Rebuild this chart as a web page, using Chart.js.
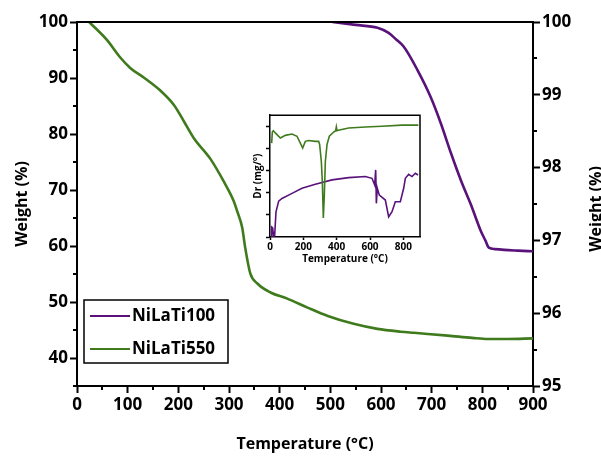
<!DOCTYPE html>
<html>
<head>
<meta charset="utf-8">
<script src="https://cdn.jsdelivr.net/npm/chart.js@4.4.0/dist/chart.umd.min.js"></script>
<style>
  html, body { margin: 0; padding: 0; background: #fff; }
  #wrap { position: relative; width: 601px; height: 457px; overflow: hidden; }
  #main { position: absolute; left: 0; top: 0; }
  #inset { position: absolute; left: 240px; top: 105px; }
</style>
</head>
<body>
<div id="wrap">
  <canvas id="main" width="601" height="457"></canvas>
  <canvas id="inset" width="190" height="165"></canvas>
</div>
<script>
// TGA curves
const ti100Temp   = [504, 550, 593, 615, 630, 645, 672, 698, 718, 738, 758, 777, 797, 806, 813, 825, 843, 870, 900];
const ti100Weight = [100, 99.96, 99.92, 99.85, 99.76, 99.66, 99.34, 98.97, 98.61, 98.2, 97.82, 97.5, 97.13, 97.0, 96.9, 96.88, 96.87, 96.86, 96.85];

const ti550Temp   = [24, 59, 85, 105, 133, 164, 192, 212, 231, 263, 291, 309, 317, 326, 332, 342, 356, 382, 415, 455, 495, 546, 593, 639, 665, 732, 780, 811, 850, 900];
const ti550Weight = [100, 96.8, 93.7, 91.8, 90.0, 87.8, 85.1, 82.1, 79.2, 75.6, 71.3, 68.1, 66.0, 63.3, 59.7, 55.1, 53.3, 51.7, 50.6, 49.0, 47.5, 46.1, 45.2, 44.7, 44.5, 44.0, 43.6, 43.4, 43.4, 43.5];

// inset DTG curves (arbitrary units)
const dtg550Temp = [10, 14, 20, 32, 62, 92, 132, 162, 182, 196, 212, 232, 272, 292, 298, 308, 314, 320, 326, 332, 342, 356, 382, 394, 398, 402, 410, 472, 572, 672, 792, 890];
const dtg550Val  = [4.24, 4.74, 4.8, 4.7, 4.47, 4.59, 4.65, 4.55, 4.24, 4.02, 4.32, 4.36, 4.32, 4.32, 4.17, 3.41, 2.5, 0.86, 1.9, 3.4, 4.17, 4.55, 4.74, 4.8, 4.97, 4.8, 4.82, 4.92, 4.97, 5.0, 5.05, 5.05];

const dtg100Temp = [8, 10, 16, 22, 28, 36, 52, 72, 132, 192, 272, 372, 472, 572, 612, 628, 634, 636, 638, 644, 656, 692, 712, 732, 752, 782, 802, 812, 832, 852, 872, 888];
const dtg100Val  = [0.0, 0.45, 0.41, 0.0, 0.08, 1.14, 1.62, 1.74, 1.97, 2.2, 2.38, 2.58, 2.68, 2.73, 2.65, 2.35, 3.03, 2.4, 1.52, 2.2, 1.89, 1.67, 0.91, 1.14, 1.59, 1.59, 2.2, 2.65, 2.83, 2.73, 2.88, 2.8];

const tempTicks      = [0, 100, 200, 300, 400, 500, 600, 700, 800, 900];
const tempMinor      = [50, 150, 250, 350, 450, 550, 650, 750, 850];
const leftTicks      = [40, 50, 60, 70, 80, 90, 100];
const leftMinor      = [35, 45, 55, 65, 75, 85, 95];
const rightTicks     = [95, 96, 97, 98, 99, 100];
const rightMinor     = [95.5, 96.5, 97.5, 98.5, 99.5];
const insetTempTicks = [0, 200, 400, 600, 800];
const insetValTicks  = [0, 1, 2, 3, 4, 5];

const FONT = "'Open Sans', 'Noto Sans', sans-serif";
const PURPLE = '#5a127b';
const GREEN = '#3f7b1d';

const pts = (xs, ys) => xs.map((x, i) => ({x: x, y: ys[i]}));
const fixed = list => s => { s.ticks = list.map(v => ({value: v})); };

// minor ticks, top frame, right title and legend box
const mainExtras = {
  id: 'mainExtras',
  afterDraw(chart) {
    const ctx = chart.ctx;
    const a = chart.chartArea;
    const sx = chart.scales.x, sl = chart.scales.y, sr = chart.scales.y2;
    ctx.save();
    ctx.strokeStyle = '#000';
    ctx.lineWidth = 2;
    ctx.beginPath();
    ctx.moveTo(a.left - 1, a.top);
    ctx.lineTo(a.right + 1, a.top);
    tempMinor.forEach(v => {
      const px = Math.round(sx.getPixelForValue(v));
      ctx.moveTo(px, a.bottom); ctx.lineTo(px, a.bottom + 4);
    });
    leftMinor.forEach(v => {
      const py = Math.round(sl.getPixelForValue(v));
      ctx.moveTo(a.left, py); ctx.lineTo(a.left - 4, py);
    });
    rightMinor.forEach(v => {
      const py = Math.round(sr.getPixelForValue(v));
      ctx.moveTo(a.right, py); ctx.lineTo(a.right + 4, py);
    });
    ctx.stroke();

    // right axis title
    ctx.fillStyle = '#000';
    ctx.font = 'bold 16px ' + FONT;
    ctx.textAlign = 'center';
    ctx.textBaseline = 'middle';
    ctx.translate(596, (a.top + a.bottom) / 2 + 5);
    ctx.rotate(-Math.PI / 2);
    ctx.fillText('Weight (%)', 0, 0);
    ctx.restore();

    // legend
    ctx.save();
    ctx.strokeStyle = '#000';
    ctx.lineWidth = 1.5;
    ctx.strokeRect(84, 300, 144, 63);
    ctx.font = 'bold 17px ' + FONT;
    ctx.textBaseline = 'middle';
    ctx.textAlign = 'left';
    ctx.fillStyle = '#000';
    chart.data.datasets.forEach((ds, i) => {
      const y = 316 + i * 33;
      ctx.strokeStyle = ds.borderColor;
      ctx.lineWidth = 2;
      ctx.beginPath();
      ctx.moveTo(90, y); ctx.lineTo(130, y);
      ctx.stroke();
      ctx.fillText(ds.label, 132, y);
    });
    ctx.restore();
  }
};

new Chart(document.getElementById('main'), {
  type: 'line',
  data: {
    datasets: [
      {label: 'NiLaTi100', data: pts(ti100Temp, ti100Weight), yAxisID: 'y2',
       borderColor: PURPLE, borderWidth: 2.6, pointRadius: 0, cubicInterpolationMode: 'monotone'},
      {label: 'NiLaTi550', data: pts(ti550Temp, ti550Weight), yAxisID: 'y',
       borderColor: GREEN, borderWidth: 2.6, pointRadius: 0, cubicInterpolationMode: 'monotone'}
    ]
  },
  options: {
    responsive: false,
    animation: false,
    layout: {padding: {top: 22, left: 0, right: 0, bottom: 0}},
    plugins: {legend: {display: false}, tooltip: {enabled: false}},
    scales: {
      x: {
        type: 'linear', position: 'bottom', min: 0, max: 900,
        afterBuildTicks: fixed(tempTicks),
        afterFit: s => { s.height = 71; },
        ticks: {color: '#000', font: {family: FONT, size: 17, weight: 'bold'}, padding: 2, maxRotation: 0, autoSkip: false},
        grid: {drawOnChartArea: false, tickLength: 7, tickWidth: 2, tickColor: '#000'},
        border: {color: '#000', width: 2},
        title: {display: true, text: 'Temperature (°C)', color: '#000',
                font: {family: FONT, size: 16, weight: 'bold'}, padding: {top: 0, bottom: 3}}
      },
      y: {
        position: 'left', min: 35, max: 100,
        afterBuildTicks: fixed(leftTicks),
        afterFit: s => { s.width = 77; },
        ticks: {color: '#000', font: {family: FONT, size: 17, weight: 'bold'}, padding: 2},
        grid: {drawOnChartArea: false, tickLength: 7, tickWidth: 2, tickColor: '#000'},
        border: {color: '#000', width: 2},
        title: {display: true, text: 'Weight (%)', color: '#000',
                font: {family: FONT, size: 16, weight: 'bold'}, padding: {top: 13, bottom: 0}}
      },
      y2: {
        position: 'right', min: 95, max: 100,
        afterBuildTicks: fixed(rightTicks),
        afterFit: s => { s.width = 68; },
        ticks: {color: '#000', font: {family: FONT, size: 17, weight: 'bold'}, padding: 2},
        grid: {drawOnChartArea: false, tickLength: 7, tickWidth: 2, tickColor: '#000'},
        border: {color: '#000', width: 2}
      }
    }
  },
  plugins: [mainExtras]
});

// inset frame
const insetFrame = {
  id: 'insetFrame',
  afterDraw(chart) {
    const ctx = chart.ctx, a = chart.chartArea;
    ctx.save();
    ctx.strokeStyle = '#000';
    ctx.lineWidth = 1.5;
    ctx.beginPath();
    ctx.moveTo(a.left, a.top); ctx.lineTo(a.right, a.top); ctx.lineTo(a.right, a.bottom);
    ctx.stroke();
    ctx.restore();
  }
};

new Chart(document.getElementById('inset'), {
  type: 'line',
  data: {
    datasets: [
      {data: pts(dtg550Temp, dtg550Val), borderColor: GREEN, borderWidth: 1.6, pointRadius: 0, tension: 0},
      {data: pts(dtg100Temp, dtg100Val), borderColor: PURPLE, borderWidth: 1.6, pointRadius: 0, tension: 0}
    ]
  },
  options: {
    responsive: false,
    animation: false,
    layout: {padding: {top: 10, right: 10, left: 0, bottom: 0}},
    plugins: {legend: {display: false}, tooltip: {enabled: false}},
    scales: {
      x: {
        type: 'linear', min: 0, max: 900,
        afterBuildTicks: fixed(insetTempTicks),
        afterFit: s => { s.height = 33; },
        ticks: {color: '#000', font: {family: FONT, size: 10, weight: 'bold'}, padding: 1, maxRotation: 0, autoSkip: false},
        grid: {drawOnChartArea: false, tickLength: 3, tickWidth: 1.5, tickColor: '#000'},
        border: {color: '#000', width: 1.5},
        title: {display: true, text: 'Temperature (°C)', color: '#000',
                font: {family: FONT, size: 10, weight: 'bold'}, padding: {top: 0, bottom: 5}}
      },
      y: {
        min: 0, max: 5.5,
        afterBuildTicks: fixed(insetValTicks),
        afterFit: s => { s.width = 30; },
        ticks: {callback: () => ''},
        grid: {drawOnChartArea: false, tickLength: 4, tickWidth: 1.5, tickColor: '#000'},
        border: {color: '#000', width: 1.5},
        title: {display: true, text: 'Dr (mg/°)', color: '#000',
                font: {family: FONT, size: 10, weight: 'bold'}, padding: {top: 12, bottom: 0}}
      }
    }
  },
  plugins: [insetFrame]
});
</script>
</body>
</html>
